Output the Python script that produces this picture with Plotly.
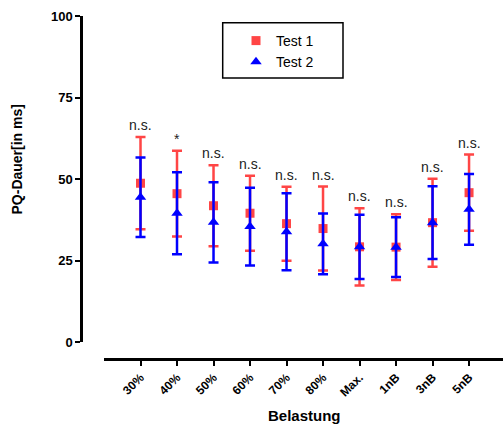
import plotly.graph_objects as go

categories = ["30%", "40%", "50%", "60%", "70%", "80%", "Max.", "1nB", "3nB", "5nB"]
test1_mean = [48.7, 45.5, 41.8, 39.5, 36.3, 34.8, 29.2, 29.1, 36.6, 45.8]
test1_sd = [14.15, 13.15, 12.4, 11.5, 11.35, 12.9, 11.85, 10.1, 13.5, 11.7]
test2_mean = [44.4, 39.5, 36.7, 35.4, 33.8, 30.1, 29.2, 29.1, 36.6, 40.7]
test2_sd = [12.2, 12.55, 12.3, 11.9, 11.8, 9.3, 9.85, 9.15, 11.15, 10.85]
significance = ["n.s.", "*", "n.s.", "n.s.", "n.s.", "n.s.", "n.s.", "n.s.", "n.s.", "n.s."]
y_ticks = [0, 25, 50, 75, 100]

RED = "#FF4545"
BLUE = "#0000FF"
FONT = "Liberation Sans, Arial, sans-serif"

W, H = 503, 425
ML, MT = 81, 16
BOTTOM_PX = 359
MB = H - BOTTOM_PX
PW = W - ML
PH = BOTTOM_PX - MT


def px_x(p):
    return (p - ML) / PW


def px_y(p):
    return (BOTTOM_PX - p) / PH


fig = go.Figure()
fig.add_trace(go.Scatter(
    x=categories, y=test1_mean, mode="markers", name="Test 1",
    marker=dict(symbol="square", size=9, color=RED),
    error_y=dict(type="data", array=test1_sd, visible=True, color=RED, thickness=2.5, width=5),
))
fig.add_trace(go.Scatter(
    x=categories, y=test2_mean, mode="markers", name="Test 2",
    marker=dict(symbol="triangle-up", size=10, color=BLUE),
    error_y=dict(type="data", array=test2_sd, visible=True, color=BLUE, thickness=2.5, width=5),
))

annotations = []
for c, m, s, t in zip(categories, test1_mean, test1_sd, significance):
    annotations.append(dict(
        x=c, y=m + s, xref="x", yref="y", text=t, showarrow=False,
        yanchor="middle", yshift=12,
        font=dict(family=FONT, size=14, color="#222222"),
    ))
annotations.append(dict(
    x=px_x(16.5), y=px_y(160), xref="paper", yref="paper", text="<b>PQ-Dauer[in ms]</b>",
    showarrow=False, textangle=-90, xanchor="center", yanchor="middle",
    font=dict(family=FONT, size=14, color="black"),
))
annotations.append(dict(
    x=px_x(304), y=px_y(415), xref="paper", yref="paper", text="<b>Belastung</b>",
    showarrow=False, xanchor="center", yanchor="middle",
    font=dict(family=FONT, size=15, color="black"),
))

fig.update_layout(
    width=W, height=H,
    margin=dict(l=ML, r=0, t=MT, b=MB, pad=0),
    paper_bgcolor="white", plot_bgcolor="white",
    showlegend=True,
    legend=dict(
        x=px_x(236), y=px_y(25), xanchor="left", yanchor="top",
        bgcolor="rgba(0,0,0,0)", borderwidth=0,
        font=dict(family=FONT, size=14, color="black"),
    ),
    shapes=[dict(
        type="rect", xref="paper", yref="paper",
        x0=px_x(222.7), x1=px_x(343), y0=px_y(78), y1=px_y(22.7),
        line=dict(color="black", width=1.5), fillcolor="rgba(0,0,0,0)",
    )],
    annotations=annotations,
    xaxis=dict(
        type="category", range=[-1.0, 9.93],
        domain=[px_x(104), 1], anchor="free", position=0,
        showline=True, linecolor="black", linewidth=2.5,
        ticks="outside", ticklen=5, tickwidth=2, tickcolor="black",
        tickangle=-45, showgrid=False, zeroline=False,
        tickfont=dict(family=FONT, size=12, color="black", weight="bold"),
    ),
    yaxis=dict(
        range=[0, 100], domain=[px_y(342), 1], anchor="free", position=0,
        tickvals=y_ticks,
        showline=True, linecolor="black", linewidth=2.5,
        ticks="outside", ticklen=5, tickwidth=2, tickcolor="black",
        showgrid=False, zeroline=False,
        tickfont=dict(family=FONT, size=13, color="black", weight="bold"),
    ),
)

fig.write_html("out.html")
